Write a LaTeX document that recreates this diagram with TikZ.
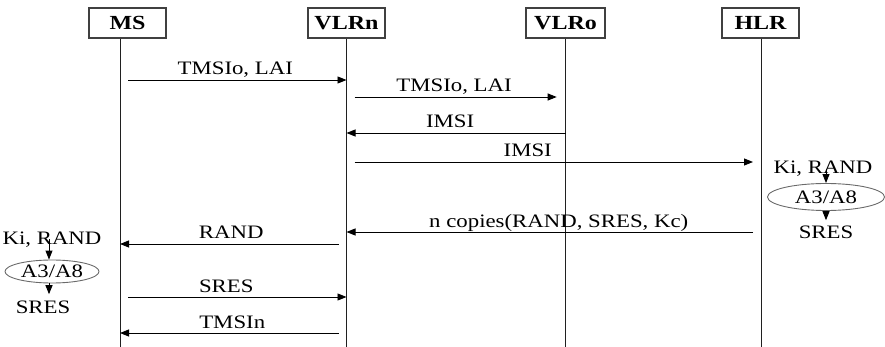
\documentclass[tikz,border=0pt]{standalone}
\usepackage{fontspec}
\setmainfont[FakeStretch=1.2]{Liberation Serif}
\usetikzlibrary{positioning,calc,shapes.geometric,arrows.meta}
\definecolor{boxline}{HTML}{404040}
\definecolor{lifeline}{HTML}{202020}
\definecolor{ovalline}{HTML}{6A6A6A}
\tikzset{
  entity/.style={draw=boxline, line width=1.2pt, minimum width=77pt, minimum height=30pt,
                 inner sep=0pt, font=\fontsize{20}{24}\selectfont\bfseries},
  life/.style={draw=lifeline, line width=0.9pt},
  msg/.style={-{Triangle[length=9pt,width=7pt]}, line width=0.9pt},
  msgtext/.style={anchor=base, yshift=5pt, inner sep=0pt, font=\fontsize{19}{22}\selectfont},
}

\begin{document}
\begin{tikzpicture}[x=1pt, y=-1pt,
  algo/.style={draw=ovalline, line width=0.9pt, ellipse, inner sep=0pt, font=\fontsize{19}{22}\selectfont},
  note/.style={inner sep=0pt, anchor=base, font=\fontsize{19}{22}\selectfont}]
  \useasboundingbox (0,0) rectangle (885,347);
  % entities
  \node[entity] (ms) at (127.5,23) {MS};
  \node[entity] (vlrn) at (346.5,23) {VLRn};
  \node[entity, minimum width=79pt] (vlro) at (565.5,23) {VLRo};
  \node[entity] (hlr) at (760.5,23) {HLR};
  % lifelines
  \coordinate (lms) at (120,0);
  \coordinate (lvn) at (346.5,0);
  \coordinate (lvo) at (565.7,0);
  \coordinate (lhl) at (761,0);
  \foreach \ent/\lin in {ms/lms, vlrn/lvn, vlro/lvo, hlr/lhl}
    \draw[life] (\ent.south -| \lin) -- ($(\lin)+(0,347)$);
  % messages
  \foreach \src/\dst/\yy/\gs/\gt/\dx/\txt in {
      lms/lvn/80/8/0/2/{TMSIo, LAI},
      lvn/lvo/97/8/9/-2/{TMSIo, LAI},
      lvo/lvn/133/0/0/-6/IMSI,
      lvn/lhl/162/8/8/-26/IMSI,
      lhl/lvn/232/8/0/5/{n copies(RAND, SRES, Kc)},
      lvn/lms/244/8/0/-2/RAND,
      lms/lvn/297/8/0/-7/SRES,
      lvn/lms/333/8/0/-1/TMSIn}
    \draw[msg, shorten <=\gs pt, shorten >=\gt pt] ($(\src)+(0,\yy)$) -- ($(\dst)+(0,\yy)$)
      node[msgtext, midway, xshift=\dx pt] {\txt};
  % A3/A8 at the HLR
  \node[note] (hki) at (823,174) {Ki, RAND};
  \node[algo, minimum width=117pt, minimum height=27pt] (hal) at (826,197) {A3/A8};
  \node[note] (hsr) at (826,238) {SRES};
  \draw[msg] (hki.center -| hal.north) -- (hal.north);
  \draw[msg, shorten >=5pt] (hal.south) -- (hsr.north -| hal.south);
  % A3/A8 at the MS
  \node[note] (mki) at (52,244) {Ki, RAND};
  \node[algo, minimum width=94pt, minimum height=23pt] (mal) at (52,271.5) {A3/A8};
  \node[note] (msr) at (43,313) {SRES};
  \draw[msg] ([xshift=-3pt]mki.center -| mal.north) -- ([xshift=-3pt]mal.north);
  \draw[msg, shorten >=6pt] ([xshift=-3pt]mal.south) -- ([xshift=-3pt]msr.north -| mal.south);
\end{tikzpicture}
\end{document}
